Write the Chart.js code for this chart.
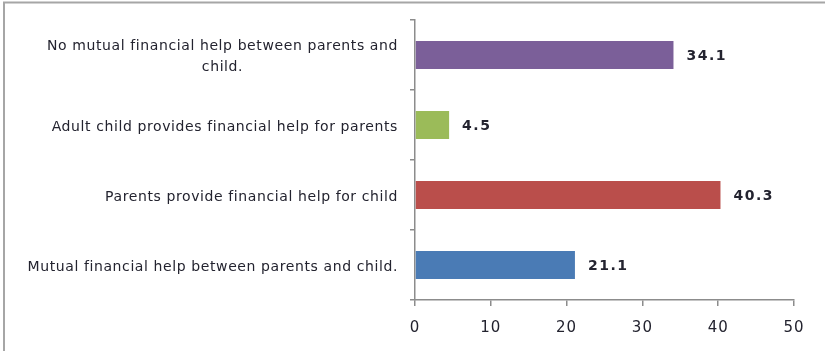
<!DOCTYPE html>
<html>
<head>
<meta charset="utf-8">
<script src="https://cdn.jsdelivr.net/npm/chart.js@4"></script>
<style>
    html, body {margin: 0; padding: 0; background: #fff;}
    #wrap {width: 825px; height: 351px;}
</style>
</head>
<body>
<div id="wrap">
    <canvas id="chart" width="825" height="351"></canvas>
</div>
<script>
// categories from top to bottom; a nested array is a wrapped label
const categories = [
    ['No mutual financial help between parents and', 'child.'],
    ['Adult child provides financial help for parents'],
    ['Parents provide financial help for child'],
    ['Mutual financial help between parents and child.'],
];
const values = [34.1, 4.5, 40.3, 21.1];
const barColors = ['#7B5F99', '#9BBB59', '#BA4E4B', '#4A7BB5'];
const xTicks = [0, 10, 20, 30, 40, 50];

const textColor = '#23232f';
const axisColor = '#8c8c8c';

// frame along the top and left edge, plus a little spacing for all text
const framePlugin = {
    id: 'frame',
    beforeDraw(chart) {
        const ctx = chart.ctx;
        ctx.save();
        ctx.strokeStyle = '#a6a6a6';
        ctx.lineWidth = 2;
        ctx.beginPath();
        ctx.moveTo(4, chart.height);
        ctx.lineTo(4, 2.5);
        ctx.lineTo(chart.width, 2.5);
        ctx.stroke();
        ctx.restore();
        ctx.letterSpacing = '1px';
    }
};

// category names: right edge at the axis, wrapped lines centred on each other
const categoryLabels = {
    id: 'categoryLabels',
    afterDraw(chart) {
        const ctx = chart.ctx;
        const y = chart.scales.y;
        ctx.save();
        ctx.font = '14px "DejaVu Sans"';
        ctx.letterSpacing = '0.6px';
        ctx.fillStyle = textColor;
        ctx.textAlign = 'center';
        ctx.textBaseline = 'middle';
        const right = chart.chartArea.left - 17;
        const lineH = 21;
        categories.forEach((lines, i) => {
            const w = Math.max(...lines.map(l => ctx.measureText(l).width));
            const cx = right - w / 2;
            const cy = y.getPixelForValue(i);
            lines.forEach((l, j) => {
                ctx.fillText(l, cx, cy + (j - (lines.length - 1) / 2) * lineH + 2);
            });
        });
        ctx.restore();
    }
};

// value printed next to the end of each bar
const valueLabels = {
    id: 'valueLabels',
    afterDatasetsDraw(chart) {
        const ctx = chart.ctx;
        const meta = chart.getDatasetMeta(0);
        ctx.save();
        ctx.font = 'bold 14px "DejaVu Sans"';
        ctx.letterSpacing = '1.5px';
        ctx.fillStyle = textColor;
        ctx.textAlign = 'left';
        ctx.textBaseline = 'middle';
        meta.data.forEach((bar, i) => {
            ctx.fillText(values[i].toFixed(1), bar.x + 13, bar.y + 1);
        });
        ctx.restore();
    }
};

new Chart(document.getElementById('chart'), {
    type: 'bar',
    data: {
        labels: categories.map(c => c.join(' ')),
        datasets: [{
            data: values,
            backgroundColor: barColors,
            borderWidth: 0,
            barPercentage: 0.4,
            categoryPercentage: 1,
        }],
    },
    options: {
        indexAxis: 'y',
        responsive: false,
        animation: false,
        layout: {padding: {top: 20, right: 31, left: 0, bottom: 0}},
        plugins: {
            legend: {display: false},
            tooltip: {enabled: false},
        },
        scales: {
            x: {
                min: xTicks[0],
                max: xTicks[xTicks.length - 1],
                afterBuildTicks(scale) {
                    scale.ticks = xTicks.map(v => ({value: v}));
                },
                afterFit(scale) {
                    scale.height = 51;
                },
                border: {color: axisColor, width: 1.5},
                grid: {
                    drawOnChartArea: false,
                    drawTicks: true,
                    tickLength: 6,
                    color: axisColor,
                    lineWidth: 1.5,
                },
                ticks: {
                    color: textColor,
                    padding: 13,
                    font: {family: 'DejaVu Sans', size: 15},
                },
            },
            y: {
                afterFit(scale) {
                    scale.width = 415;
                },
                border: {color: axisColor, width: 1.5},
                grid: {
                    drawOnChartArea: false,
                    drawTicks: true,
                    tickLength: 5,
                    offset: true,
                    color: axisColor,
                    lineWidth: 1.5,
                },
                ticks: {display: false},
            },
        },
    },
    plugins: [framePlugin, categoryLabels, valueLabels],
});
</script>
</body>
</html>
